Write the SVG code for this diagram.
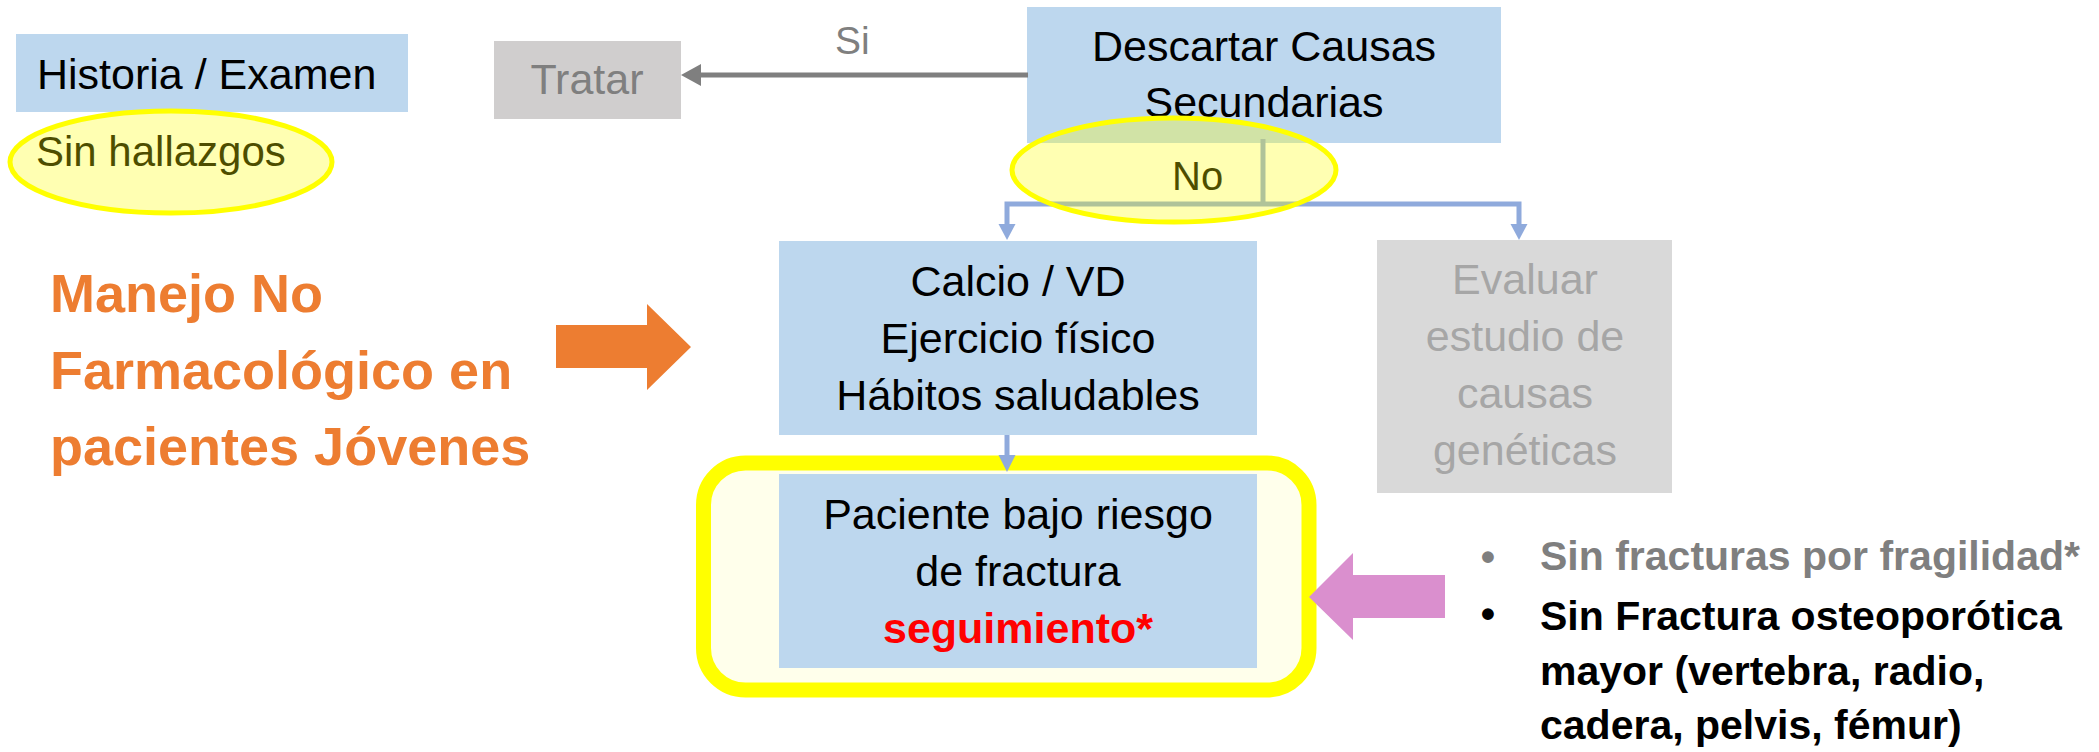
<svg xmlns="http://www.w3.org/2000/svg" width="2099" height="752" viewBox="0 0 2099 752">
<style>
text{font-family:"Liberation Sans",Arial,sans-serif;font-size:43px;fill:#000}
.c{text-anchor:middle}
.b{font-weight:bold}
.blue{fill:#BDD7EE}
.hl{fill:#FFFF00;fill-opacity:0.3;stroke:#FFFF00;stroke-width:5}
.con{fill:none;stroke:#8FAADC;stroke-width:5}
.conh{fill:#8FAADC}
.bl{font-size:41px;font-weight:bold}
</style>
<rect width="2099" height="752" fill="#fff"/>
<g id="historia">
<rect class="blue" x="16" y="34" width="392" height="78"/>
<text x="37" y="89">Historia / Examen</text>
</g>
<g id="sin-hallazgos-text">
<text x="36" y="166" style="font-size:42px">Sin hallazgos</text>
</g>
<g id="tratar">
<rect x="494" y="41" width="187" height="78" fill="#D0CECE"/>
<text class="c" x="587" y="94" style="fill:#7F7F7F">Tratar</text>
</g>
<g id="descartar">
<rect class="blue" x="1027" y="7" width="474" height="136"/>
<text class="c" x="1264" y="61">Descartar Causas</text>
<text class="c" x="1264" y="117">Secundarias</text>
</g>
<g id="calcio">
<rect class="blue" x="779" y="241" width="478" height="194"/>
<text class="c" x="1018" y="296">Calcio / VD</text>
<text class="c" x="1018" y="353">Ejercicio físico</text>
<text class="c" x="1018" y="410">Hábitos saludables</text>
</g>
<g id="evaluar">
<rect x="1377" y="240" width="295" height="253" fill="#D9D9D9"/>
<text class="c" x="1525" y="294" style="fill:#A6A6A6">Evaluar</text>
<text class="c" x="1525" y="351" style="fill:#A6A6A6">estudio de</text>
<text class="c" x="1525" y="408" style="fill:#A6A6A6">causas</text>
<text class="c" x="1525" y="465" style="fill:#A6A6A6">genéticas</text>
</g>
<g id="paciente">
<rect x="703.5" y="463" width="605.5" height="227" rx="42" fill="#FFFFEB" stroke="#FFFF00" stroke-width="15"/>
<rect class="blue" x="779" y="474" width="478" height="194"/>
<text class="c" x="1018" y="529">Paciente bajo riesgo</text>
<text class="c" x="1018" y="586">de fractura</text>
<text class="c b" x="1018" y="643" style="fill:#FF0000">seguimiento*</text>
</g>
<g id="manejo">
<text class="b" x="50" y="312" style="font-size:54px;fill:#ED7D31">Manejo No</text>
<text class="b" x="50" y="389" style="font-size:54px;fill:#ED7D31">Farmacológico en</text>
<text class="b" x="50" y="465" style="font-size:54px;fill:#ED7D31">pacientes Jóvenes</text>
<polygon points="691,347 647,304 647,325 556,325 556,368 647,368 647,390" fill="#ED7D31"/>
</g>
<g id="criterios">
<polygon points="1309,597 1353,553 1353,575 1445,575 1445,618 1353,618 1353,640" fill="#DA8FCE"/>
<text class="bl c" x="1488" y="571" style="fill:#7F7F7F">•</text>
<text class="bl" x="1540" y="570" style="fill:#7F7F7F">Sin fracturas por fragilidad*</text>
<text class="bl c" x="1488" y="628">•</text>
<text class="bl" x="1540" y="630">Sin Fractura osteoporótica</text>
<text class="bl" x="1540" y="685">mayor (vertebra, radio,</text>
<text class="bl" x="1540" y="739">cadera, pelvis, fémur)</text>
</g>
<g id="connectors">
<line x1="1028" y1="75" x2="698" y2="75" stroke="#7F7F7F" stroke-width="5"/>
<polygon points="681,75 701,64 701,86" fill="#7F7F7F"/>
<text x="835" y="54" style="font-size:39px;fill:#7F7F7F">Si</text>
<path class="con" d="M1263,139 V204 M1007,226 V204 H1519 V226"/>
<polygon class="conh" points="998.5,224 1015.5,224 1007,240"/>
<polygon class="conh" points="1510.5,224 1527.5,224 1519,240"/>
<line class="con" x1="1007" y1="435" x2="1007" y2="457"/>
<polygon class="conh" points="998.5,455 1015.5,455 1007,472"/>
</g>
<g id="highlight-sin-hallazgos">
<ellipse class="hl" cx="171" cy="162" rx="161" ry="51"/>
</g>
<g id="highlight-no">
<text x="1172" y="190" style="font-size:40px">No</text>
<ellipse class="hl" cx="1174" cy="170" rx="162" ry="52"/>
</g>
</svg>
